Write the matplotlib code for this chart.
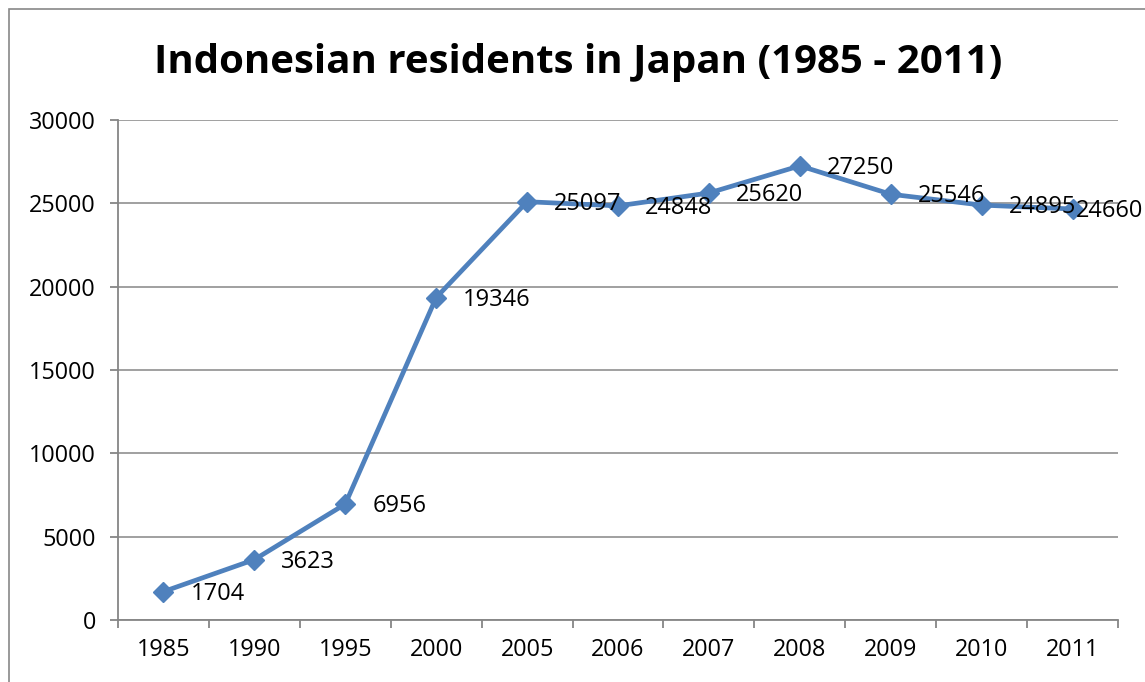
import matplotlib.pyplot as plt
from matplotlib.patches import Rectangle

years = ["1985", "1990", "1995", "2000", "2005", "2006", "2007", "2008", "2009", "2010", "2011"]
residents = [1704, 3623, 6956, 19346, 25097, 24848, 25620, 27250, 25546, 24895, 24660]
yticks = [0, 5000, 10000, 15000, 20000, 25000, 30000]

plt.rcParams["font.family"] = ["Open Sans", "DejaVu Sans"]

fig = plt.figure(figsize=(11.45, 6.82), dpi=100)
ax = fig.add_axes([118 / 1145, 62 / 682, 1000 / 1145, 500 / 682])

# outer chart border (runs off the right / bottom edge like the source)
fig.patches.append(Rectangle((8.5 / 1145, -0.2), 1.5, 1.2 - 8.5 / 682,
                             transform=fig.transFigure, fill=False,
                             edgecolor="#888888", linewidth=1.2))

x = list(range(len(years)))
ax.plot(x, residents, color="#4F81BD", linewidth=3.4, marker="D",
        markersize=10, markerfacecolor="#4F81BD", markeredgecolor="#4F81BD",
        zorder=3)

for i, v in enumerate(residents):
    dx = 27 if i < len(years) - 1 else 3
    ax.annotate(str(v), (i, v), xytext=(dx * 0.72, -1.5), textcoords="offset points",
                ha="left", va="center", fontsize=17, zorder=4)

ax.set_xlim(-0.5, len(years) - 0.5)
ax.set_ylim(0, 30000)
ax.set_yticks(yticks)
ax.set_yticklabels([str(t) for t in yticks])
ax.grid(axis="y", color="#868686", linewidth=1.1)
ax.set_axisbelow(True)

ax.set_xticks(x)
ax.set_xticklabels(years)
ax.set_xticks([i - 0.5 for i in range(len(years) + 1)], minor=True)
ax.tick_params(axis="x", which="major", length=0, pad=13, labelsize=16.8)
ax.tick_params(axis="x", which="minor", length=6, width=1.3, color="#868686", direction="out")
ax.tick_params(axis="y", length=6, width=1.3, color="#868686", pad=10, labelsize=16.8)

for s in ["top", "right"]:
    ax.spines[s].set_visible(False)
for s in ["left", "bottom"]:
    ax.spines[s].set_color("#868686")
    ax.spines[s].set_linewidth(1.3)

fig.text(578 / 1145, 1 - 62 / 682, "Indonesian residents in Japan (1985 - 2011)",
         ha="center", va="center", fontsize=29, fontweight="bold")

fig.savefig("out.png", dpi=100)
